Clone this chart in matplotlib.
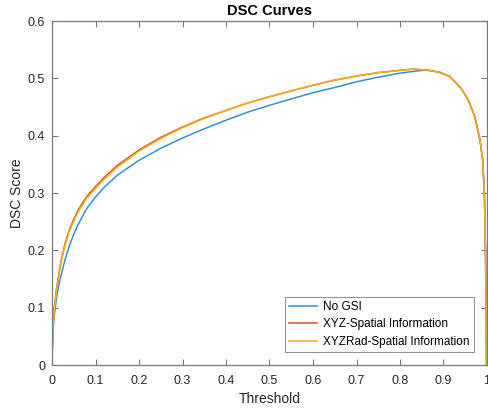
import matplotlib
matplotlib.use("Agg")
import matplotlib.pyplot as plt
import numpy as np

plt.rcParams['font.family'] = ['Liberation Sans', 'DejaVu Sans']

thresholds = [0.0, 0.002, 0.005, 0.01, 0.015, 0.02, 0.03, 0.04, 0.05, 0.06, 0.08, 0.1, 0.12,
              0.15, 0.2, 0.25, 0.3, 0.35, 0.4, 0.45, 0.5, 0.55, 0.6, 0.65, 0.7, 0.75, 0.8,
              0.83, 0.86, 0.89, 0.915, 0.94, 0.957, 0.972, 0.984, 0.99, 0.994, 0.9965,
              0.998, 0.999]
no_gsi = [0.01, 0.055, 0.085, 0.115, 0.137, 0.154, 0.184, 0.208, 0.228, 0.245, 0.273, 0.293, 0.310,
          0.331, 0.357, 0.378, 0.396, 0.412, 0.427, 0.441, 0.453, 0.464, 0.475, 0.484, 0.494, 0.502, 0.509,
          0.512, 0.5146, 0.511, 0.503, 0.483, 0.462, 0.433, 0.392, 0.358, 0.30, 0.20,
          0.10, 0.0]
xyz_spatial = [0.01, 0.065, 0.097, 0.13, 0.155, 0.178, 0.212, 0.236, 0.254, 0.27, 0.294, 0.311, 0.327,
               0.348, 0.375, 0.397, 0.415, 0.431, 0.444, 0.457, 0.468, 0.478, 0.488, 0.497, 0.504, 0.510, 0.514,
               0.516, 0.5146, 0.511, 0.503, 0.483, 0.462, 0.433, 0.392, 0.358, 0.30, 0.20,
               0.10, 0.0]
xyzrad_spatial = [0.01, 0.062, 0.094, 0.127, 0.152, 0.175, 0.209, 0.233, 0.251, 0.267, 0.291, 0.308, 0.324,
                  0.345, 0.373, 0.395, 0.414, 0.430, 0.444, 0.457, 0.468, 0.478, 0.488, 0.497, 0.504, 0.510, 0.514,
                  0.516, 0.5146, 0.511, 0.503, 0.483, 0.462, 0.433, 0.392, 0.358, 0.30, 0.20,
                  0.10, 0.0]
labels = ['No GSI', 'XYZ-Spatial Information', 'XYZRad-Spatial Information']
colors = ['#3391d6', '#d95319', '#edb120']

fig = plt.figure(figsize=(4.89, 4.12), dpi=100)
ax = fig.add_axes([52/489, 1-365/412, 435/489, 344/412])

for ys, lab, c in zip([no_gsi, xyz_spatial, xyzrad_spatial], labels, colors):
    ax.plot(thresholds, ys, color=c, lw=1.1, label=lab)

ax.set_xlim(0, 1)
ax.set_ylim(0, 0.6)
ax.set_xticks(np.arange(0, 1.01, 0.1))
ax.set_xticklabels(['0', '0.1', '0.2', '0.3', '0.4', '0.5', '0.6', '0.7', '0.8', '0.9', '1'])
ax.set_yticks(np.arange(0, 0.61, 0.1))
ax.set_yticklabels(['0', '0.1', '0.2', '0.3', '0.4', '0.5', '0.6'])
axc = '#7a7a7a'
for s in ax.spines.values():
    s.set_color(axc)
    s.set_linewidth(0.9)
ax.tick_params(direction='in', length=4, width=0.8, color=axc, labelcolor='#262626',
               labelsize=9, top=True, right=True)
ax.tick_params(axis='x', pad=7)
ax.tick_params(axis='y', pad=5)
ax.set_xlabel('Threshold', fontsize=10, color='#262626', labelpad=4)
ax.set_ylabel('DSC Score', fontsize=10, color='#262626', labelpad=3)
ax.set_title('DSC Curves', fontsize=10.5, fontweight='bold', color='#000000', pad=4)

leg = ax.legend(loc='lower right', fontsize=8.5, frameon=True, fancybox=False,
                edgecolor=axc, handlelength=2.4, handletextpad=0.5, borderpad=0.35,
                labelspacing=0.45, borderaxespad=0, bbox_to_anchor=(0.970, 0.038))
leg.get_frame().set_linewidth(0.8)

fig.savefig('out.png', dpi=100)
